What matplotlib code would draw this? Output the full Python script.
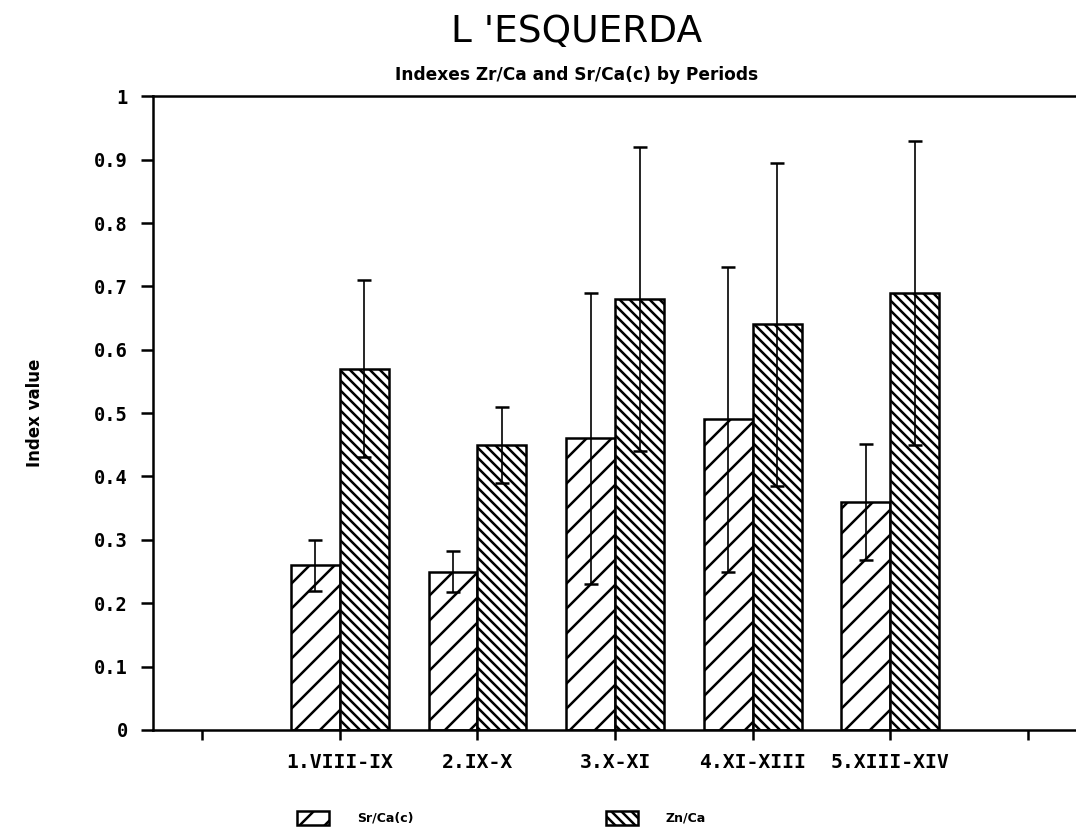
import numpy as np
import matplotlib
matplotlib.use('Agg')
import matplotlib.pyplot as plt

# values
periods = ['1.VIII-IX', '2.IX-X', '3.X-XI', '4.XI-XIII', '5.XIII-XIV']
sr_ca = [0.26, 0.25, 0.46, 0.49, 0.36]
sr_err = [0.04, 0.033, 0.23, 0.24, 0.092]
zn_ca = [0.57, 0.45, 0.68, 0.64, 0.69]
zn_err = [0.14, 0.06, 0.24, 0.255, 0.24]

# dpi 150 so that the hatch spacing matches the scan
DPI = 150
plt.rcParams['hatch.linewidth'] = 1.2
plt.rcParams['font.family'] = ['DejaVu Sans']

fig = plt.figure(figsize=(1076 / DPI, 838 / DPI), dpi=DPI)
ax = fig.add_axes([0.142, 0.129, 0.858, 0.756])

x = np.arange(1, len(periods) + 1)
w = 0.355
ax.bar(x, sr_ca, width=-w, align='edge', color='white', edgecolor='black',
       linewidth=1.2, hatch='//', label='Sr/Ca(c)', zorder=2)
ax.bar(x, zn_ca, width=w, align='edge', color='white', edgecolor='black',
       linewidth=1.2, hatch='\\' * 5, label='Zn/Ca', zorder=2)
ax.errorbar(x - w / 2, sr_ca, yerr=sr_err, fmt='none', ecolor='black',
            elinewidth=0.8, capsize=3.5, capthick=1.2, zorder=3)
ax.errorbar(x + w / 2, zn_ca, yerr=zn_err, fmt='none', ecolor='black',
            elinewidth=0.8, capsize=3.5, capthick=1.2, zorder=3)

ax.set_xlim(-0.36, 6.35)
ax.set_ylim(0, 1)
ax.set_xticks(range(0, 7))
ax.set_xticklabels([''] + periods + [''], family='DejaVu Sans Mono',
                   fontweight='bold', fontsize=9.5)
yt = np.arange(0, 1.01, 0.1)
ax.set_yticks(yt)
ax.set_yticklabels(['0'] + [f'{v:.1f}' for v in yt[1:-1]] + ['1'],
                   family='DejaVu Sans Mono', fontweight='bold', fontsize=9)
ax.tick_params(axis='y', direction='out', length=6, width=1.2, pad=6)
ax.tick_params(axis='x', direction='out', length=5, width=1.2, pad=6)
for s in ['left', 'bottom', 'top']:
    ax.spines[s].set_linewidth(1.2)
ax.spines['right'].set_visible(False)

ax.set_ylabel('Index value', fontsize=8, fontweight='bold', labelpad=24)

fig.text(0.536, 0.962, "L 'ESQUERDA", ha='center', va='center', fontsize=18)
fig.text(0.536, 0.91, 'Indexes Zr/Ca and Sr/Ca(c) by Periods', ha='center',
         va='center', fontsize=8.2, fontweight='bold')

fig.legend(loc='center', bbox_to_anchor=(0.466, 0.024), ncol=2, frameon=False,
           handlelength=2.56, handleheight=1.35, handletextpad=2.24,
           columnspacing=15.4,
           prop={'weight': 'bold', 'size': 6})

fig.savefig('out.png', dpi=DPI)
